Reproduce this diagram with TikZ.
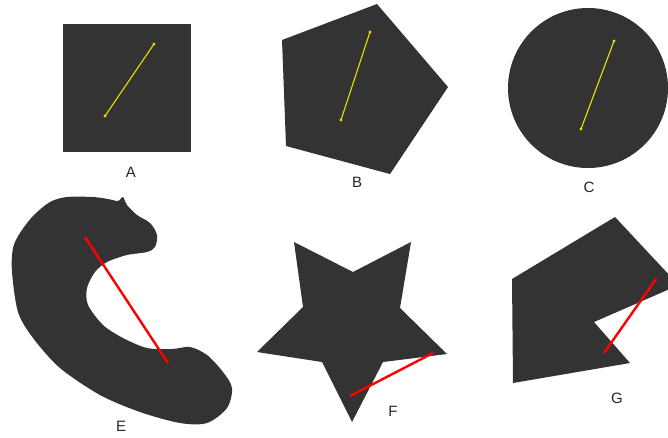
\documentclass[tikz,border=0pt]{standalone}
\usepackage{fontspec}
\setmainfont{Liberation Sans}
\begin{document}
\begin{tikzpicture}[x=1pt,y=-1pt,
  shapefill/.style={fill=shapegray,draw=none},
  yline/.style={draw=lineyellow,line width=1.1pt},
  ydot/.style={fill=lineyellow,draw=none},
  rline/.style={draw=red,line width=2.4pt},
  lab/.style={font=\fontsize{15}{18}\selectfont,text=black!85,inner sep=0pt}]
\definecolor{shapegray}{HTML}{333333}
\definecolor{lineyellow}{HTML}{E8E000}
\useasboundingbox (0,0) rectangle (668,437);
\clip (0,0) rectangle (668,437);
% A square
\fill[shapefill] (63,24) rectangle (191,152);
\coordinate (a1) at (105,116); \coordinate (a2) at (154,44);
\draw[yline] (a1) -- (a2);
\fill[ydot] (a1) circle (1.6); \fill[ydot] (a2) circle (1.6);
\node[lab] (lA) at (131,172) {A};
% B pentagon
\fill[shapefill] (282,40) -- (377,4) -- (448,87) -- (390,174) -- (286,146) -- cycle;
\coordinate (b1) at (341,120); \coordinate (b2) at (370,32);
\draw[yline] (b1) -- (b2);
\fill[ydot] (b1) circle (1.6); \fill[ydot] (b2) circle (1.6);
\node[lab] (lB) at (357,182) {B};
% C circle
\fill[shapefill] (588,88) circle (80);
\coordinate (c1) at (581,129); \coordinate (c2) at (614,41);
\draw[yline] (c1) -- (c2);
\fill[ydot] (c1) circle (1.6); \fill[ydot] (c2) circle (1.6);
\node[lab] (lC) at (589,187) {C};
% E blob
\fill[shapefill] plot[smooth cycle, tension=0.5] coordinates {
 (13,248) (12,272) (18,312) (33,338) (60,368) (100,395) (140,412) (180,423)
 (207,423) (227,408) (232,388) (223,372) (207,355) (190,347) (172,349)
 (147,348) (123,338) (103,325) (88,305) (87,288) (95,272) (107,262)
 (127,255) (147,252) (155,247) (157,235) (150,223) (137,215) (127,205)
 (123,197) (118,201) (108,199) (93,197) (67,197) (50,202) (33,216) (20,233)};
\coordinate (e1) at (85,237); \coordinate (e2) at (168,363);
\draw[rline] (e1) -- (e2);
\node[lab] (lE) at (121,426) {E};
% F star
\fill[shapefill] (294,242) -- (353,272) -- (411,242) -- (400,308) -- (447,354)
 -- (383,362) -- (352,422) -- (322,362) -- (257,352) -- (303,307) -- cycle;
\coordinate (f1) at (350,396); \coordinate (f2) at (433,353);
\draw[rline] (f1) -- (f2);
\node[lab] (lF) at (393,411) {F};
% G notched pentagon
\fill[shapefill] (615,217) -- (672,278) -- (672,288) -- (594,322) -- (630,363)
 -- (513,383) -- (512,279) -- cycle;
\coordinate (g1) at (604,353); \coordinate (g2) at (656,279);
\draw[rline] (g1) -- (g2);
\node[lab] (lG) at (617,398) {G};
\end{tikzpicture}
\end{document}
